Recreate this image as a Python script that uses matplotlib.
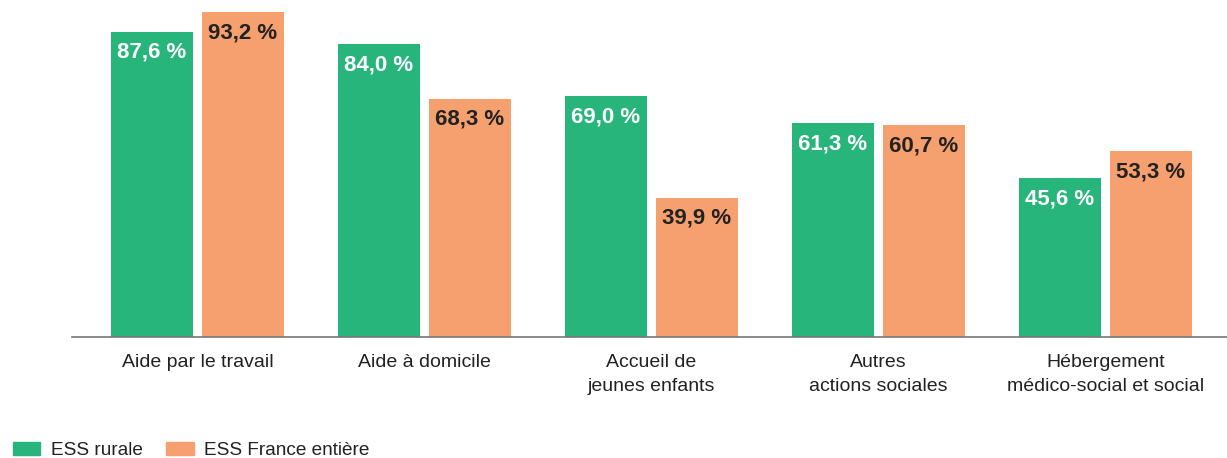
import matplotlib
matplotlib.use("Agg")
import matplotlib.pyplot as plt
import numpy as np
from matplotlib.patches import Patch

categories = ["Aide par le travail", "Aide à domicile", "Accueil de\njeunes enfants",
              "Autres\nactions sociales", "Hébergement\nmédico-social et social"]
rurale = [87.6, 84.0, 69.0, 61.3, 45.6]
france = [93.2, 68.3, 39.9, 60.7, 53.3]
series_names = ["ESS rurale", "ESS France entière"]

GREEN = "#27B57B"
ORANGE = "#F6A06F"
DARK = "#222222"
FONT = ["Liberation Sans", "DejaVu Sans"]
plt.rcParams["font.family"] = FONT

fig = plt.figure(figsize=(12.27, 4.58), dpi=100)
ax = fig.add_axes([72/1227, (458-337)/458, 1155/1227, 337/458])

x = np.arange(len(categories))
w = 82/227
off = 45.5/227
b1 = ax.bar(x - off, rurale, w, color=GREEN)
b2 = ax.bar(x + off, france, w, color=ORANGE)

def fmt(v):
    return f"{v:.1f}".replace(".", ",") + " %"

for bars, vals, col in ((b1, rurale, "white"), (b2, france, DARK)):
    for b, v in zip(bars, vals):
        ax.annotate(fmt(v), (b.get_x() + b.get_width()/2, v), xytext=(0, -7.2),
                    textcoords="offset points", ha="center", va="top",
                    fontsize=16, fontweight="bold", color=col)

ax.set_xlim(-0.553, 4.535)
ax.set_ylim(0, 96.65)
ax.set_xticks(x)
ax.set_xticklabels(categories, fontsize=14, color=DARK, linespacing=1.5)
ax.tick_params(axis="x", length=0, pad=12.5)
ax.set_yticks([])
for s in ("top", "right", "left"):
    ax.spines[s].set_visible(False)
ax.spines["bottom"].set_color("#777777")
ax.spines["bottom"].set_linewidth(1.2)

handles = [Patch(color=GREEN), Patch(color=ORANGE)]
fig.legend(handles, series_names, loc="lower left", bbox_to_anchor=(0.004, -0.019),
           ncol=2, frameon=False, fontsize=13.7, handlelength=1.44, handleheight=0.72,
           handletextpad=0.57, columnspacing=1.24, borderaxespad=0, labelcolor=DARK)

fig.savefig("out.png", dpi=100)
